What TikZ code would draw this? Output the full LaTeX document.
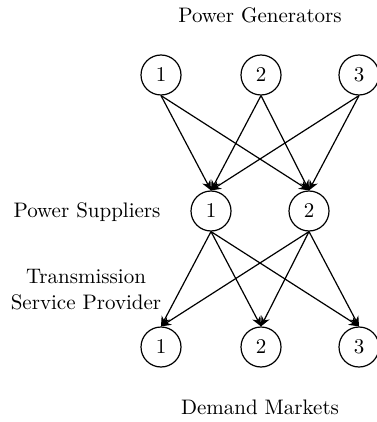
\documentclass[tikz,border=0pt]{standalone}
\usetikzlibrary{arrows.meta}
\begin{document}
\begin{tikzpicture}[x=0.5pt,y=-0.5pt,
  agent/.style={draw,circle,minimum size=20pt,inner sep=0pt,line width=0.6pt,font=\fontsize{10.5}{12}\selectfont},
  tier/.style={font=\fontsize{10.5}{12}\selectfont,align=center},
  flow/.style={-{Stealth[length=5pt,width=4.5pt]},line width=0.6pt}]
\useasboundingbox (0,0) rectangle (376,422);
% tier labels
\node[tier] (lg) at (260,15) {Power Generators};
\node[tier] (ls) at (87,212) {Power Suppliers};
\node[tier] (lt) at (86,290) {Transmission\\[1pt]Service Provider};
\node[tier] (ld) at (260,407) {Demand Markets};
% generators
\node[agent] (g1) at (161,75) {1};
\node[agent] (g2) at (261,75) {2};
\node[agent] (g3) at (359,75) {3};
% suppliers
\node[agent] (s1) at (211,211) {1};
\node[agent] (s2) at (309,211) {2};
% demand markets
\node[agent] (d1) at (161,347) {1};
\node[agent] (d2) at (261,347) {2};
\node[agent] (d3) at (359,347) {3};
% generator -> supplier
\foreach \g in {g1,g2,g3}
  \foreach \s in {s1,s2}
    \draw[flow] (\g.south) -- (\s.north);
% supplier -> demand market
\foreach \s in {s1,s2}
  \foreach \d in {d1,d2,d3}
    \draw[flow] (\s.south) -- (\d.north);
\end{tikzpicture}
\end{document}
